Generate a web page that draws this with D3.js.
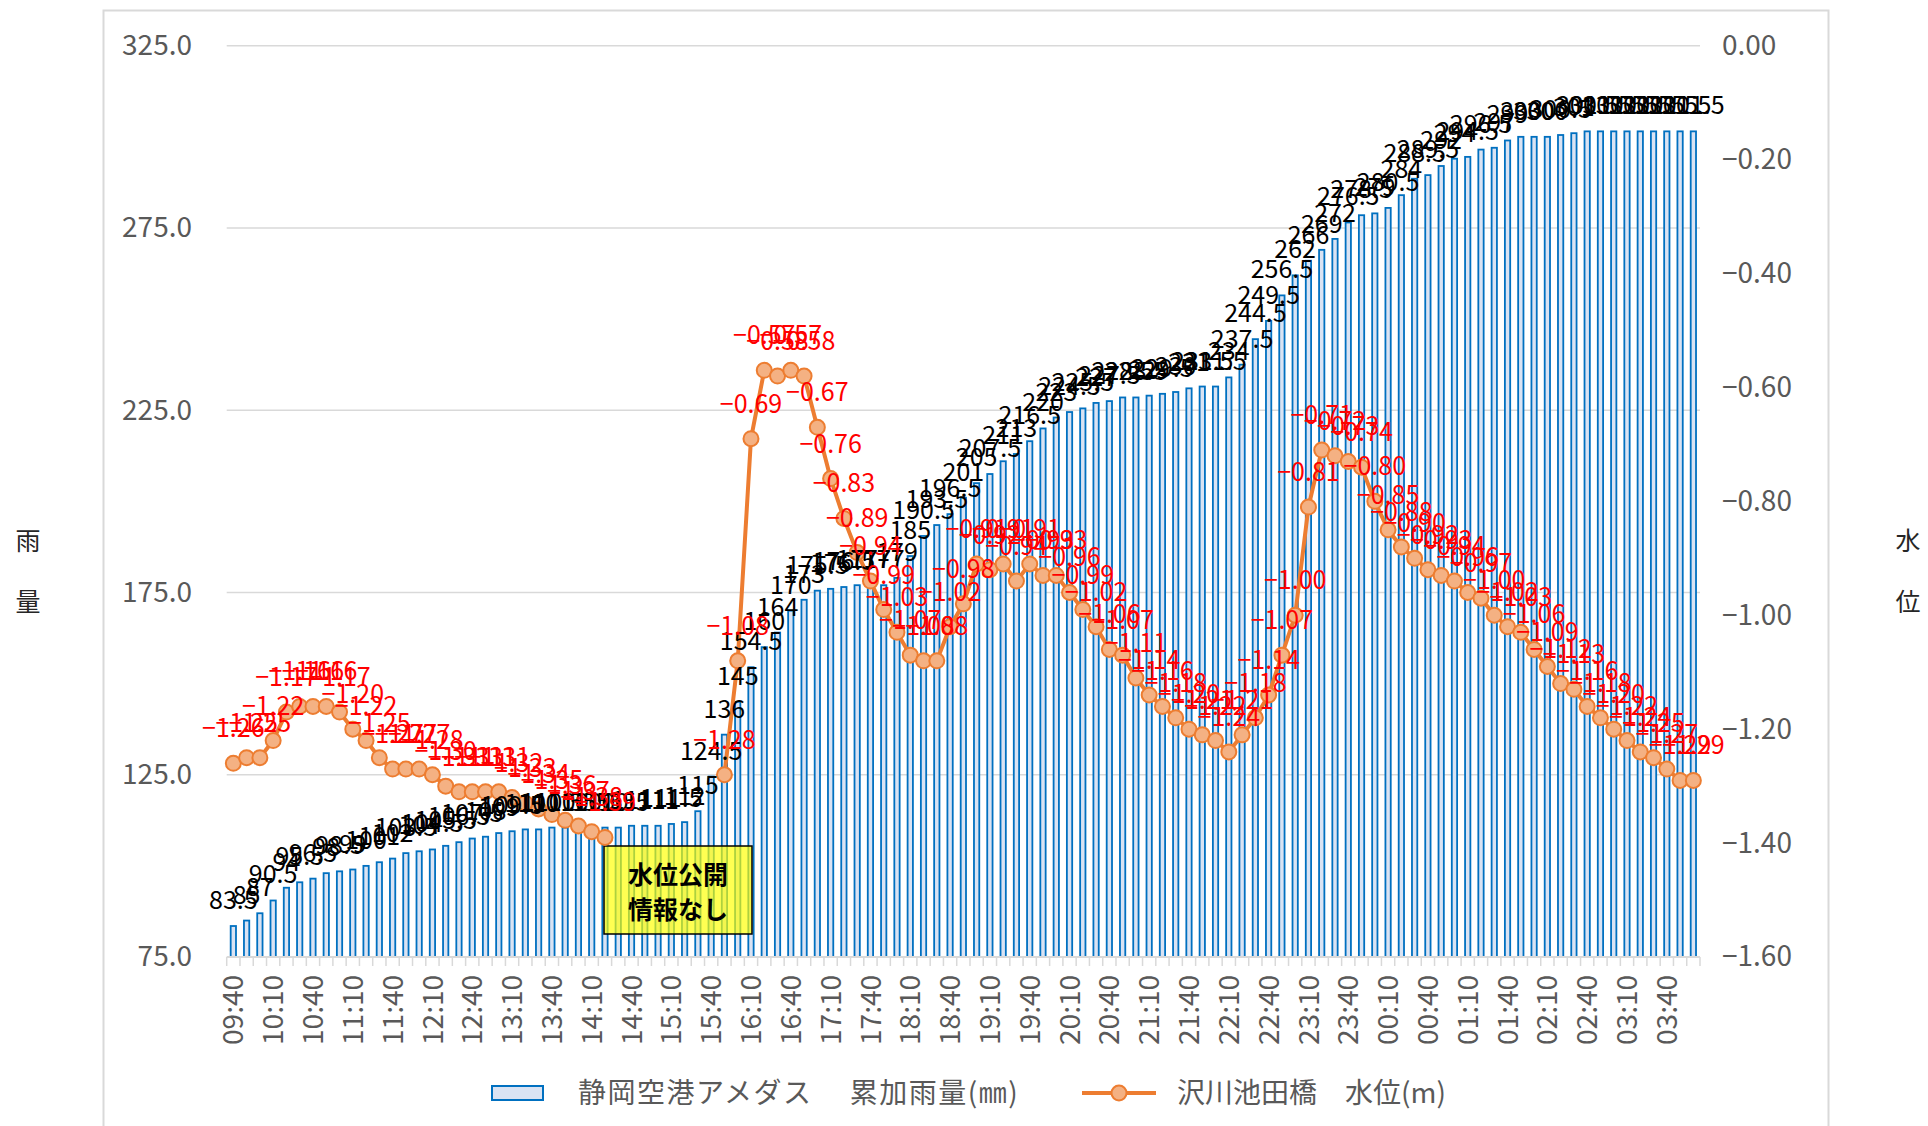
<!DOCTYPE html>
<html>
<head>
<meta charset="utf-8">
<title>累加雨量と水位</title>
<script src="https://d3js.org/d3.v7.min.js"></script>
<style>
  body { margin: 0; background: #fff; }
  svg text { font-family: "Noto Sans CJK JP", "Noto Sans", sans-serif; }
</style>
</head>
<body>
<script>
// 10分毎の時刻
var times = ["09:40","09:50",
  "10:00","10:10","10:20","10:30","10:40","10:50",
  "11:00","11:10","11:20","11:30","11:40","11:50",
  "12:00","12:10","12:20","12:30","12:40","12:50",
  "13:00","13:10","13:20","13:30","13:40","13:50",
  "14:00","14:10","14:20","14:30","14:40","14:50",
  "15:00","15:10","15:20","15:30","15:40","15:50",
  "16:00","16:10","16:20","16:30","16:40","16:50",
  "17:00","17:10","17:20","17:30","17:40","17:50",
  "18:00","18:10","18:20","18:30","18:40","18:50",
  "19:00","19:10","19:20","19:30","19:40","19:50",
  "20:00","20:10","20:20","20:30","20:40","20:50",
  "21:00","21:10","21:20","21:30","21:40","21:50",
  "22:00","22:10","22:20","22:30","22:40","22:50",
  "23:00","23:10","23:20","23:30","23:40","23:50",
  "00:00","00:10","00:20","00:30","00:40","00:50",
  "01:00","01:10","01:20","01:30","01:40","01:50",
  "02:00","02:10","02:20","02:30","02:40","02:50",
  "03:00","03:10","03:20","03:30","03:40","03:50",
  "04:00"];

// 静岡空港アメダス 累加雨量(mm)
var rain = [83.5,85,87,90.5,94,95.5,96.5,98,98.5,99,
  100,101,102,103.5,104,104.5,105.5,106.5,107.5,108,
  109,109.5,110,110,110.5,110.5,110.5,110.5,110.5,110.5,
  111,111,111,111.5,112,115,124.5,136,145,154.5,
  160,164,170,173,175.5,176,176.5,177,177,177,
  179,185,190.5,193.5,196.5,201,205,207.5,211,213,
  216.5,220,223,224.5,225.5,227,227.5,228.5,228.5,229,
  229.5,230,231,231.5,231.5,234,237.5,244.5,249.5,256.5,
  262,266,269,272,276.5,278.5,279,280.5,284,288.5,
  289.5,292,294,294.5,296.5,297,299,300,300,300,
  300.5,301,301.5,301.5,301.5,301.5,301.5,301.5,301.5,301.5,
  301.5];

// 沢川池田橋 水位(m)  null = 水位公開情報なし
var level = [-1.26,-1.25,-1.25,-1.22,-1.17,-1.16,-1.16,-1.16,-1.17,-1.20,
  -1.22,-1.25,-1.27,-1.27,-1.27,-1.28,-1.30,-1.31,-1.31,-1.31,
  -1.31,-1.32,-1.33,-1.34,-1.35,-1.36,-1.37,-1.38,-1.39,
  null,null,null,null,null,null,null,null,
  -1.28,-1.08,-0.69,
  -0.57,-0.58,-0.57,-0.58,-0.67,-0.76,-0.83,-0.89,-0.94,-0.99,
  -1.03,-1.07,-1.08,-1.08,-1.02,-0.98,-0.91,-0.92,-0.91,-0.94,
  -0.91,-0.93,-0.93,-0.96,-0.99,-1.02,-1.06,-1.07,-1.11,-1.14,
  -1.16,-1.18,-1.20,-1.21,-1.22,-1.24,-1.21,-1.18,-1.14,-1.07,
  -1.00,-0.81,-0.71,-0.72,-0.73,-0.74,-0.80,-0.85,-0.88,-0.90,
  -0.92,-0.93,-0.94,-0.96,-0.97,-1.00,-1.02,-1.03,-1.06,-1.09,
  -1.12,-1.13,-1.16,-1.18,-1.20,-1.22,-1.24,-1.25,-1.27,-1.29,-1.29];

var leftTicks = [75,125,175,225,275,325];
var rightTicks = [0,-0.2,-0.4,-0.6,-0.8,-1.0,-1.2,-1.4,-1.6];

var w = 1928, h = 1126;
var svg = d3.select("body").append("svg").attr("width", w).attr("height", h);

// chart frame
svg.append("rect").attr("x",103.5).attr("y",10.5).attr("width",1725).attr("height",1200)
  .attr("fill","#fff").attr("stroke","#d9d9d9").attr("stroke-width",2);

var idx = d3.range(times.length);
var x = d3.scaleBand().domain(idx).range([226.7,1700]).paddingInner(0.6).paddingOuter(0.3);
var yL = d3.scaleLinear().domain([75,325]).range([957,45.7]);
var yR = d3.scaleLinear().domain([-1.6,0]).range([957,45.7]);
var cx = function(i){ return x(i) + x.bandwidth()/2; };

// gridlines
svg.append("g").selectAll("line").data(leftTicks.slice(1)).enter().append("line")
  .attr("x1",226.7).attr("x2",1700)
  .attr("y1",function(d){return yL(d);}).attr("y2",function(d){return yL(d);})
  .attr("stroke","#d9d9d9").attr("stroke-width",1.5);

// left axis
var gl = svg.append("g").attr("transform","translate(192,0)")
  .call(d3.axisLeft(yL).tickValues(leftTicks).tickFormat(d3.format(".1f")).tickSize(0).tickPadding(0));
gl.select(".domain").remove();
gl.selectAll("text").attr("font-size",28).attr("fill","#595959")
  .style("font-family","'Noto Sans CJK JP'");

// right axis
var gr = svg.append("g").attr("transform","translate(1722,0)")
  .call(d3.axisRight(yR).tickValues(rightTicks)
    .tickFormat(function(d){ return (d < 0 ? "\u2212" : "") + Math.abs(d).toFixed(2); })
    .tickSize(0).tickPadding(0));
gr.select(".domain").remove();
gr.selectAll("text").attr("font-size",28).attr("fill","#595959")
  .style("font-family","'Noto Sans CJK JP'");

// bars
svg.append("g").selectAll("rect").data(idx).enter().append("rect")
  .attr("x",function(i){return x(i);})
  .attr("y",function(i){return yL(rain[i]);})
  .attr("width",x.bandwidth())
  .attr("height",function(i){return yL(75) - yL(rain[i]);})
  .attr("fill","#dae3f3").attr("stroke","#0070c0").attr("stroke-width",1.8);

// x axis line and ticks
var gap = (x.step() - x.bandwidth())/2;
svg.append("line").attr("x1",226.7).attr("x2",1700).attr("y1",957).attr("y2",957)
  .attr("stroke","#d9d9d9").attr("stroke-width",2);
svg.append("g").selectAll("line").data(d3.range(times.length + 1)).enter().append("line")
  .attr("x1",function(k){ return k < times.length ? x(k) - gap : x(k-1) + x.bandwidth() + gap; })
  .attr("x2",function(k){ return k < times.length ? x(k) - gap : x(k-1) + x.bandwidth() + gap; })
  .attr("y1",957).attr("y2",966)
  .attr("stroke","#d9d9d9").attr("stroke-width",1.5);

svg.append("g").selectAll("text").data(idx.filter(function(i){return i % 3 == 0;})).enter().append("text")
  .attr("transform",function(i){ return "translate(" + cx(i) + ",975) rotate(-90)"; })
  .attr("text-anchor","end").attr("dy","0.36em")
  .attr("font-size",28).attr("fill","#595959")
  .text(function(i){return times[i];});

// annotation box (drawn over the bars, semi transparent)
var box = svg.append("g");
box.append("rect").attr("x",604).attr("y",846).attr("width",148).attr("height",88)
  .attr("fill","#ffff00").attr("fill-opacity",0.68).attr("stroke","#000").attr("stroke-width",1.5);
box.append("text").attr("x",678).attr("y",884).attr("text-anchor","middle")
  .attr("font-size",25).attr("font-weight","bold").attr("fill","#000").text("水位公開");
box.append("text").attr("x",678).attr("y",919).attr("text-anchor","middle")
  .attr("font-size",25).attr("font-weight","bold").attr("fill","#000").text("情報なし");

// water level line
var line = d3.line()
  .defined(function(i){ return level[i] !== null; })
  .x(function(i){ return cx(i); })
  .y(function(i){ return yR(level[i]); });

svg.append("path").datum(idx).attr("d",line)
  .attr("fill","none").attr("stroke","#ed7d31").attr("stroke-width",4).attr("stroke-linejoin","round");

var pts = idx.filter(function(i){ return level[i] !== null; });
svg.append("g").selectAll("circle").data(pts).enter().append("circle")
  .attr("cx",function(i){return cx(i);})
  .attr("cy",function(i){return yR(level[i]);})
  .attr("r",7.5)
  .attr("fill","#f4b183").attr("stroke","#ed7d31").attr("stroke-width",2);

// bar labels
svg.append("g").selectAll("text").data(idx).enter().append("text")
  .attr("x",function(i){return cx(i);})
  .attr("y",function(i){return yL(rain[i]) - 17;})
  .attr("text-anchor","middle").attr("font-size",25).attr("fill","#000")
  .text(function(i){ return rain[i] % 1 === 0 ? rain[i] : rain[i].toFixed(1); });

// level labels
svg.append("g").selectAll("text").data(pts).enter().append("text")
  .attr("x",function(i){return cx(i);})
  .attr("y",function(i){return yR(level[i]) - 26;})
  .attr("text-anchor","middle").attr("font-size",25).attr("fill","#ff0000")
  .text(function(i){ return "\u2212" + Math.abs(level[i]).toFixed(2); });

// axis titles
[["雨",541],["量",602]].forEach(function(t){
  svg.append("text").attr("x",28).attr("y",t[1]).attr("text-anchor","middle").attr("dy","0.35em")
    .attr("font-size",25).attr("fill","#262626").text(t[0]);
});
[["水",541],["位",602]].forEach(function(t){
  svg.append("text").attr("x",1908).attr("y",t[1]).attr("text-anchor","middle").attr("dy","0.35em")
    .attr("font-size",25).attr("fill","#262626").text(t[0]);
});

// legend
var lg = svg.append("g");
lg.append("rect").attr("x",492).attr("y",1086).attr("width",51).attr("height",14)
  .attr("fill","#dae3f3").attr("stroke","#0070c0").attr("stroke-width",2);
lg.append("text").attr("x",578).attr("y",1093).attr("dy","0.35em")
  .attr("font-size",28).attr("letter-spacing",1.5).attr("fill","#595959").text("静岡空港アメダス　 累加雨量(㎜)");
lg.append("line").attr("x1",1082).attr("x2",1156).attr("y1",1093).attr("y2",1093)
  .attr("stroke","#ed7d31").attr("stroke-width",4);
lg.append("circle").attr("cx",1119).attr("cy",1093).attr("r",7.5)
  .attr("fill","#f4b183").attr("stroke","#ed7d31").attr("stroke-width",2);
lg.append("text").attr("x",1177).attr("y",1093).attr("dy","0.35em")
  .attr("font-size",28).attr("fill","#595959").text("沢川池田橋　水位(m)");
</script>
</body>
</html>
